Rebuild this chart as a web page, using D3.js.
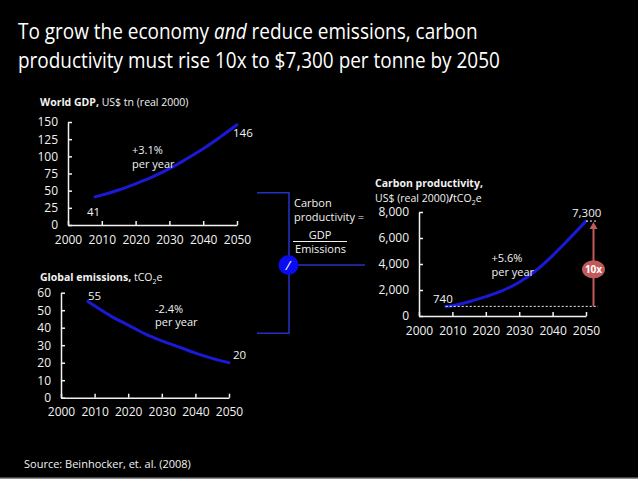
<!DOCTYPE html>
<html>
<head>
<meta charset="utf-8">
<script src="https://cdn.jsdelivr.net/npm/d3@7"></script>
<style>
  body { margin: 0; background: #000; }
  svg { display: block; font-family: "Open Sans", Lato, sans-serif; }
  .axis path, .axis line { stroke: #f2f2f2; stroke-width: 1.5; }
  .axis text { fill: #f2f2f2; font-family: "Open Sans", sans-serif; }
</style>
</head>
<body>
<div id="chart"></div>
<script>
// Values
const xTicks = [2000, 2010, 2020, 2030, 2040, 2050];

const gdpYears = [2008, 2010, 2015, 2020, 2025, 2030, 2035, 2040, 2045, 2050];
const gdpValues = [41, 43.5, 51, 60, 70, 82, 96, 111, 128, 146];
const gdpTicks = [0, 25, 50, 75, 100, 125, 150];

const emiYears = [2008, 2010, 2015, 2020, 2025, 2030, 2035, 2040, 2045, 2050];
const emiValues = [55, 52.5, 46.5, 41.5, 36.5, 32.5, 29, 25.5, 22.5, 20];
const emiTicks = [0, 10, 20, 30, 40, 50, 60];

const cpYears = [2008, 2010, 2015, 2020, 2025, 2030, 2035, 2040, 2045, 2050];
const cpValues = [740, 790, 1100, 1490, 1950, 2600, 3500, 4650, 5950, 7300];
const cpTicks = [0, 2000, 4000, 6000, 8000];

const WIDTH = 638;
const HEIGHT = 479;
const LINE_BLUE = "#1a1ad6";
const LINK_BLUE = "#2233c4";
const RED = "#c25a5a";
const WHITE = "#f2f2f2";

const svg = d3
  .select("#chart")
  .append("svg")
  .attr("width", WIDTH)
  .attr("height", HEIGHT);

svg.append("rect").attr("width", WIDTH).attr("height", HEIGHT).attr("fill", "#000");
// thin grey strip at the very bottom
svg.append("rect").attr("x", 0).attr("y", 477.5).attr("width", WIDTH).attr("height", 1.5).attr("fill", "#8c8c8c");

// Title, squeezed horizontally to the reference width
function titleLine(y, width, build) {
  const g = svg.append("g");
  const t = g.append("text").attr("x", 0).attr("y", 0).attr("fill", "#fff").attr("font-size", 21);
  build(t);
  const w = t.node().getComputedTextLength();
  g.attr("transform", `translate(18, ${y}) scale(${width / w}, 1)`);
}
titleLine(39, 460, (t) => {
  t.append("tspan").text("To grow the economy ");
  t.append("tspan").attr("font-style", "italic").text("and");
  t.append("tspan").text(" reduce emissions, carbon");
});
titleLine(67.5, 482, (t) => t.text("productivity must rise 10x to $7,300 per tonne by 2050"));

// Source
svg.append("text")
  .attr("x", 24).attr("y", 468)
  .attr("fill", WHITE).attr("font-size", 11)
  .text("Source: Beinhocker, et. al. (2008)");

/**
 * Draw one small line chart with inside ticks
 */
function drawPanel(cfg) {
  const x = d3.scaleLinear().domain([2000, 2050]).range([cfg.x0, cfg.x1]);
  const y = d3.scaleLinear().domain([0, cfg.yMax]).range([cfg.y0, cfg.y1]);

  const g = svg.append("g");

  g.append("g")
    .attr("class", "axis")
    .attr("transform", `translate(0, ${cfg.y0})`)
    .call(d3.axisBottom(x).tickValues(xTicks).tickFormat(d3.format("d"))
      .tickSizeInner(-4).tickSizeOuter(0).tickPadding(10));

  g.append("g")
    .attr("class", "axis")
    .attr("transform", `translate(${cfg.x0}, 0)`)
    .call(d3.axisLeft(y).tickValues(cfg.ticks).tickFormat(cfg.fmt || d3.format("d"))
      .tickSizeInner(-4).tickSizeOuter(0).tickPadding(10));

  g.selectAll(".axis text").attr("font-size", 12).attr("fill", WHITE);

  const line = d3.line()
    .x((d) => x(d.year))
    .y((d) => y(d.value))
    .curve(d3.curveCatmullRom);

  const pts = cfg.years.map((yr, i) => ({ year: yr, value: cfg.values[i] }));

  g.append("path")
    .datum(pts)
    .attr("d", line)
    .attr("fill", "none")
    .attr("stroke", LINE_BLUE)
    .attr("stroke-width", 3)
    .attr("stroke-linecap", "round");

  return { g, x, y };
}

function label(g, x, y, txt, size) {
  return g.append("text")
    .attr("x", x).attr("y", y)
    .attr("fill", WHITE).attr("font-size", size || 11)
    .text(txt);
}

// --- World GDP ---
const gdp = drawPanel({
  x0: 68, x1: 237, y0: 225, y1: 122, yMax: 150,
  ticks: gdpTicks, years: gdpYears, values: gdpValues,
});
const gdpTitle = svg.append("text").attr("x", 40).attr("y", 106).attr("fill", WHITE).attr("font-size", 10.5);
gdpTitle.append("tspan").attr("font-weight", "bold").text("World GDP,");
gdpTitle.append("tspan").text(" US$ tn (real 2000)");
label(gdp.g, gdp.x(gdpYears[0]) - 8, gdp.y(gdpValues[0]) + 19, "41", 11.5);
label(gdp.g, gdp.x(2050) - 4, gdp.y(146) + 12, "146", 11.5);
label(gdp.g, 132, 154, "+3.1%");
label(gdp.g, 132, 168, "per year");

// --- Global emissions ---
const emi = drawPanel({
  x0: 61, x1: 229, y0: 397.7, y1: 292.7, yMax: 60,
  ticks: emiTicks, years: emiYears, values: emiValues,
});
const emiTitle = svg.append("text").attr("x", 40).attr("y", 281).attr("fill", WHITE).attr("font-size", 10.5);
emiTitle.append("tspan").attr("font-weight", "bold").text("Global emissions,");
emiTitle.append("tspan").text(" tCO");
emiTitle.append("tspan").attr("font-size", 7).attr("dy", 3).text("2");
emiTitle.append("tspan").attr("dy", -3).text("e");
label(emi.g, emi.x(emiYears[0]), 300, "55", 11.5);
label(emi.g, emi.x(2050) + 4, 359, "20", 11.5);
label(emi.g, 155, 312.5, "-2.4%");
label(emi.g, 155, 326, "per year");

// --- Carbon productivity ---
const cp = drawPanel({
  x0: 419, x1: 586, y0: 316, y1: 212, yMax: 8000,
  ticks: cpTicks, years: cpYears, values: cpValues, fmt: d3.format(","),
});
svg.append("text").attr("x", 375).attr("y", 187).attr("fill", WHITE)
  .attr("font-size", 10.5).attr("font-weight", "bold").text("Carbon productivity,");
const cpSub = svg.append("text").attr("x", 375).attr("y", 201.5).attr("fill", WHITE).attr("font-size", 10.5);
cpSub.append("tspan").text("US$ (real 2000)");
cpSub.append("tspan").attr("font-weight", "bold").text("/");
cpSub.append("tspan").text("tCO");
cpSub.append("tspan").attr("font-size", 7).attr("dy", 3).text("2");
cpSub.append("tspan").attr("dy", -3).text("e");

const cpStart = cpValues[0];
const cpEnd = cpValues[cpValues.length - 1];
const arrowX = 593.5;

// dashed reference lines
cp.g.append("line")
  .attr("x1", cp.x(cpYears[0])).attr("x2", 598)
  .attr("y1", cp.y(cpStart)).attr("y2", cp.y(cpStart))
  .attr("stroke", WHITE).attr("stroke-width", 1).attr("stroke-dasharray", "2,2");
cp.g.append("line")
  .attr("x1", cp.x(2050)).attr("x2", 598)
  .attr("y1", cp.y(cpEnd)).attr("y2", cp.y(cpEnd))
  .attr("stroke", WHITE).attr("stroke-width", 1).attr("stroke-dasharray", "2,2");

// red arrow 10x
cp.g.append("line")
  .attr("x1", arrowX).attr("x2", arrowX)
  .attr("y1", cp.y(cpStart)).attr("y2", cp.y(cpEnd) + 6)
  .attr("stroke", RED).attr("stroke-width", 2);
cp.g.append("path")
  .attr("d", `M${arrowX},${cp.y(cpEnd) + 1} L${arrowX - 4},${cp.y(cpEnd) + 8} L${arrowX + 4},${cp.y(cpEnd) + 8} Z`)
  .attr("fill", RED);
cp.g.append("ellipse")
  .attr("cx", arrowX).attr("cy", 269.3).attr("rx", 11.5).attr("ry", 9)
  .attr("fill", RED);
cp.g.append("text")
  .attr("x", arrowX).attr("y", 273)
  .attr("text-anchor", "middle").attr("fill", "#fff")
  .attr("font-size", 10).attr("font-weight", "bold").text("10x");

label(cp.g, 433, 303, "740", 11.5);
label(cp.g, 572, 216.5, "7,300", 11.5);
label(cp.g, 491.5, 261.5, "+5.6%");
label(cp.g, 491.5, 276, "per year");

// --- connectors ---
const link = svg.append("g")
  .attr("stroke", LINK_BLUE).attr("stroke-width", 1.5).attr("fill", "none");
link.append("path").attr("d", "M257,192.7 H289 V333.3 H257");
link.append("line").attr("x1", 289).attr("x2", 365).attr("y1", 265).attr("y2", 265);

svg.append("circle").attr("cx", 288.5).attr("cy", 265).attr("r", 10).attr("fill", "#0b0bf0");
svg.append("text").attr("x", 288).attr("y", 270).attr("text-anchor", "middle")
  .attr("fill", "#fff").attr("font-size", 13).attr("font-style", "italic").text("/");

label(svg, 294, 207, "Carbon");
label(svg, 294, 221, "productivity =");
svg.append("text").attr("x", 320).attr("y", 239).attr("text-anchor", "middle")
  .attr("fill", WHITE).attr("font-size", 11).text("GDP");
svg.append("line").attr("x1", 293).attr("x2", 347).attr("y1", 241.5).attr("y2", 241.5)
  .attr("stroke", WHITE).attr("stroke-width", 1);
svg.append("text").attr("x", 320.5).attr("y", 253).attr("text-anchor", "middle")
  .attr("fill", WHITE).attr("font-size", 11).text("Emissions");
</script>
</body>
</html>
